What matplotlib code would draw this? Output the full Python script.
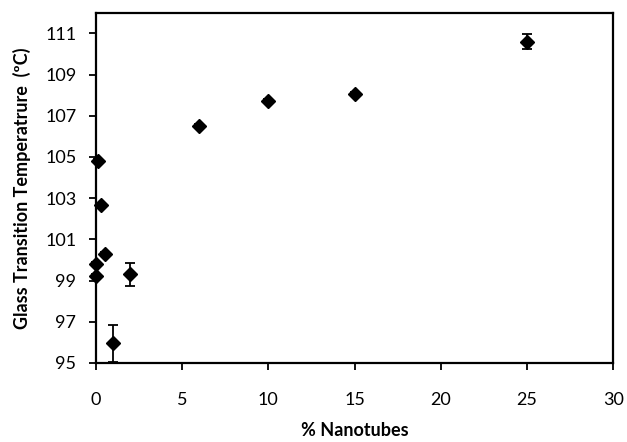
import numpy as np
import matplotlib
matplotlib.use("Agg")
import matplotlib.pyplot as plt

# values
nanotubes = [0.0, 0.0, 0.1, 0.3, 0.5, 1.0, 2.0, 6.0, 10.0, 15.0, 25.0]
tg = [99.2, 99.8, 104.8, 102.65, 100.3, 95.95, 99.3, 106.5, 107.7, 108.05, 110.6]
tg_err = [0.1, 0.1, 0.1, 0.1, 0.1, 0.9, 0.55, 0.1, 0.1, 0.1, 0.38]
xticks = [0, 5, 10, 15, 20, 25, 30]
yticks = [95, 97, 99, 101, 103, 105, 107, 109, 111]

plt.rcParams['font.family'] = ['Lato', 'DejaVu Sans']

fig = plt.figure(figsize=(6.27, 4.42), dpi=100)
ax = fig.add_axes([0.153, 0.179, 0.825, 0.792])

ax.errorbar(nanotubes, tg, yerr=tg_err, fmt='D', color='black', ms=7.5,
            ecolor='black', elinewidth=1.3, capsize=3.5, capthick=1.3, clip_on=False, zorder=3)

ax.set_xlim(0, 30)
ax.set_ylim(95, 112)
ax.set_xticks(xticks)
ax.set_yticks(yticks)
ax.tick_params(axis='both', direction='out', length=5, width=1.3, labelsize=13)
ax.tick_params(axis='x', pad=16)
ax.tick_params(axis='y', pad=9)
for s in ax.spines.values():
    s.set_linewidth(1.6)

ax.set_xlabel('% Nanotubes', fontsize=13, fontweight='bold', labelpad=10)
ax.set_ylabel('Glass Transition Temperatrure  (ºC)', fontsize=13, fontweight='bold', labelpad=10)

fig.savefig('out.png', dpi=100)
